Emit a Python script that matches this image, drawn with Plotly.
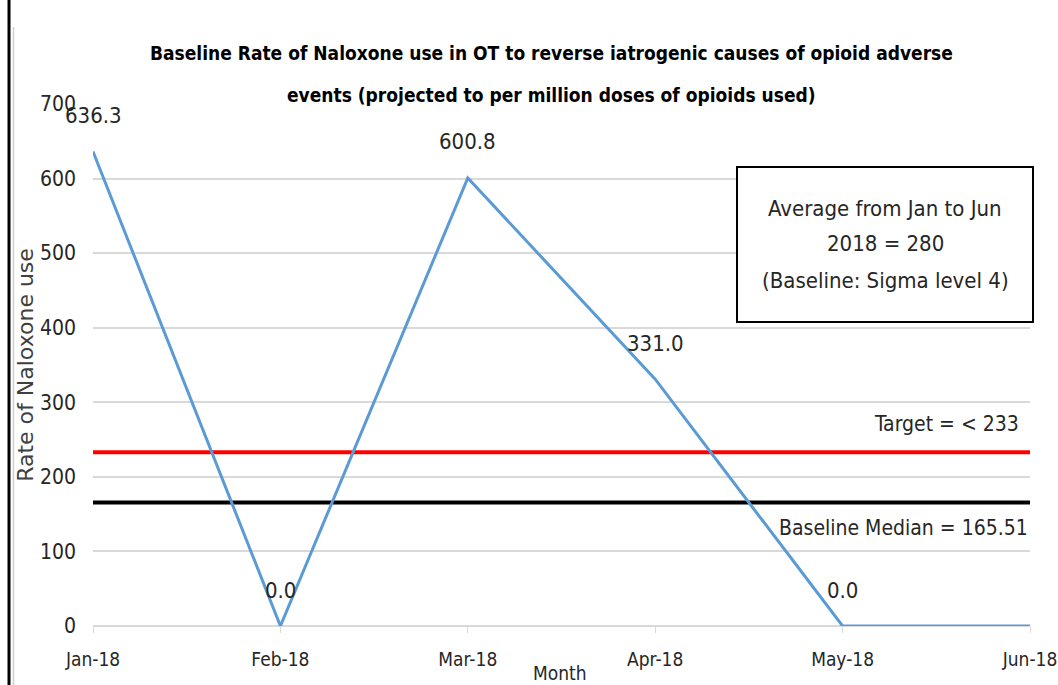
import plotly.graph_objects as go

months = ["Jan-18", "Feb-18", "Mar-18", "Apr-18", "May-18", "Jun-18"]
rates = [636.3, 0.0, 600.8, 331.0, 0.0, 0.0]
labels = ["636.3", "0.0", "600.8", "331.0", "0.0", ""]
target = 233
median = 165.51
y_ticks = [0, 100, 200, 300, 400, 500, 600, 700]
title_lines = ["Baseline Rate of Naloxone use in OT to reverse iatrogenic causes of opioid adverse",
               "events (projected to per million doses of opioids used)"]
box_lines = ["Average from Jan to Jun", "2018 = 280", "(Baseline: Sigma level 4)"]

FONT = "Liberation Sans Narrow, DejaVu Sans Condensed, Arial Narrow, sans-serif"
W, H = 1058, 685
L, R, T, B = 93, 28, 104, 59
PW, PH = W - L - R, H - T - B


def px(xp):
    return (xp - L) / PW


def py(yp):
    return (H - B - yp) / PH


idx = list(range(len(months)))

fig = go.Figure()
fig.add_trace(go.Scatter(x=[idx[0], idx[-1]], y=[target, target], mode="lines",
                         line=dict(color="#ff0000", width=4), hoverinfo="skip"))
fig.add_trace(go.Scatter(x=[idx[0], idx[-1]], y=[median, median], mode="lines",
                         line=dict(color="#000000", width=4), hoverinfo="skip"))
fig.add_trace(go.Scatter(x=idx, y=rates, mode="lines",
                         line=dict(color="#5B9BD5", width=3)))

for i, (v, t) in enumerate(zip(rates, labels)):
    if t:
        fig.add_annotation(x=i, y=v, text=t, showarrow=False, yshift=36,
                           font=dict(family=FONT, size=22, color="#262626"))

fig.add_annotation(x=px(1021), xref="paper", xanchor="right", y=target, yshift=28,
                   text="Target = < 233", showarrow=False,
                   font=dict(family=FONT, size=21, color="#262626"))
fig.add_annotation(x=1, xref="paper", xanchor="right", y=median, yshift=-25,
                   text="Baseline Median = 165.51", showarrow=False,
                   font=dict(family=FONT, size=21, color="#262626"))

# text box
fig.add_shape(type="rect", xref="paper", yref="paper",
              x0=px(737), x1=px(1033), y0=py(322), y1=py(167),
              line=dict(color="#000000", width=2), fillcolor="white", layer="above")
for txt, yp in zip(box_lines, [208, 243, 280]):
    fig.add_annotation(x=px(885), xref="paper", xanchor="center", y=py(yp), yref="paper",
                       yanchor="middle", text=txt, showarrow=False,
                       font=dict(family=FONT, size=22, color="#262626"))

# title lines
for txt, yp in zip(title_lines, [53, 95]):
    fig.add_annotation(x=px(551), xref="paper", xanchor="center", y=py(yp), yref="paper",
                       yanchor="middle", text="<b>" + txt + "</b>", showarrow=False,
                       font=dict(family=FONT, size=19, color="#000000"))

# x-axis title
fig.add_annotation(x=px(560), xref="paper", xanchor="center", y=py(673), yref="paper",
                   yanchor="middle", text="Month", showarrow=False,
                   font=dict(family=FONT, size=19, color="#262626"))

# outer frame lines on the left
fig.add_shape(type="line", xref="paper", yref="paper", x0=px(9), x1=px(9),
              y0=py(H), y1=py(0), line=dict(color="#000000", width=3))
fig.add_shape(type="line", xref="paper", yref="paper", x0=px(13.5), x1=px(13.5),
              y0=py(H), y1=py(27), line=dict(color="#d0d0d0", width=1.5))

fig.update_layout(
    width=W, height=H,
    margin=dict(l=L, r=R, t=T, b=B),
    paper_bgcolor="white", plot_bgcolor="white",
    showlegend=False,
    xaxis=dict(range=[0, 5], tickvals=idx, ticktext=months, showgrid=False, automargin=False,
               ticks="outside", ticklen=6, tickcolor="#d9d9d9", zeroline=False,
               ticklabelstandoff=10,
               tickfont=dict(family=FONT, size=19, color="#262626")),
    yaxis=dict(range=[0, 700], tickvals=y_ticks, showgrid=True, gridcolor="#d9d9d9", automargin=False,
               gridwidth=1.5, zeroline=True, zerolinecolor="#d9d9d9",
               tickfont=dict(family=FONT, size=21, color="#262626"), ticks="", ticklabelstandoff=16,
               title=dict(text="Rate of Naloxone use", standoff=0,
                          font=dict(family="DejaVu Sans, sans-serif", size=22, color="#404040"))),
)

fig.write_html("out.html", config={"displayModeBar": False},
               post_script="document.body.style.margin='0';document.body.style.overflow='hidden';")
